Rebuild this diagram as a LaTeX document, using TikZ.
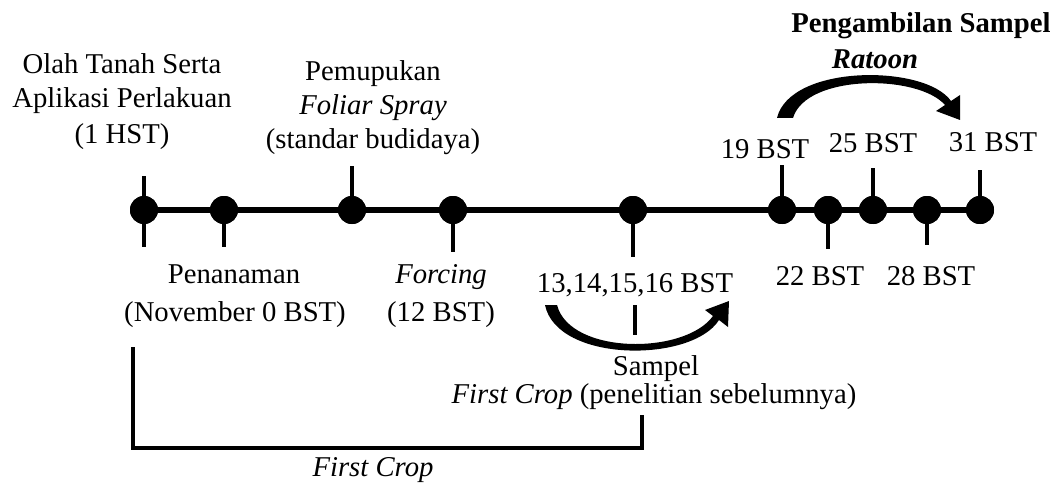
\documentclass[tikz,border=0pt]{standalone}
\usepackage{fontspec}
\setmainfont{Liberation Serif}
\begin{document}
\begin{tikzpicture}[x=1pt,y=-1pt,
  lbl/.style={font=\fontsize{28.7}{34}\selectfont, inner sep=0pt, anchor=base},
  dot/.style={circle, fill=black, minimum size=28pt, inner sep=0pt},
  tickline/.style={line width=4pt},
  axisline/.style={line width=6pt},
  bracketline/.style={line width=4pt, line join=miter}]
\useasboundingbox (0,0) rectangle (1060,484);

% timeline dots (positions)
\node[dot] (d1) at (144,210) {};
\node[dot] (d2) at (224,210) {};
\node[dot] (d3) at (352,210) {};
\node[dot] (d4) at (453,210) {};
\node[dot] (d5) at (633,210) {};
\node[dot] (d6) at (782,210) {};
\node[dot] (d7) at (828,210) {};
\node[dot] (d8) at (873,210) {};
\node[dot] (d9) at (927,210) {};
\node[dot] (d10) at (980,210) {};

% tick ends
\coordinate (t1u) at (144,176);
\coordinate (t1d) at (144,247);
\coordinate (t2d) at (224,247);
\coordinate (t3u) at (352,166);
\coordinate (t4d) at (453,252);
\coordinate (t5d) at (633,257);
\coordinate (t6u) at (782,165);
\coordinate (t7d) at (828,249);
\coordinate (t8u) at (873,168);
\coordinate (t9d) at (927,245);
\coordinate (t10u) at (980,170);

\draw[axisline] (d1.center) -- (d10.center);
\draw[tickline] (t1u) -- (t1d);
\draw[tickline] (d2.center) -- (t2d);
\draw[tickline] (d3.center) -- (t3u);
\draw[tickline] (d4.center) -- (t4d);
\draw[tickline] (d5.center) -- (t5d);
\draw[tickline] (d6.center) -- (t6u);
\draw[tickline] (d7.center) -- (t7d);
\draw[tickline] (d8.center) -- (t8u);
\draw[tickline] (d9.center) -- (t9d);
\draw[tickline] (d10.center) -- (t10u);
% dots drawn over the lines
\foreach \n in {d1,d2,d3,d4,d5,d6,d7,d8,d9,d10}
  \fill (\n.center) circle[radius=14pt];

% upper labels
\node[lbl] (olah1) at (122,74) {Olah Tanah Serta};
\node[lbl] (olah2) at (122,108) {Aplikasi Perlakuan};
\node[lbl] (olah3) at (122,143) {(1 HST)};
\node[lbl] (pem1) at (373,81) {Pemupukan};
\node[lbl] (pem2) at (373,115) {\itshape Foliar Spray};
\node[lbl] (pem3) at (373,149) {(standar budidaya)};
\node[lbl] (rat1) at (921,33) {\bfseries Pengambilan Sampel};
\node[lbl] (rat2) at (875,69) {\bfseries\itshape Ratoon};
\node[lbl] (b19) at (765,158) {19 BST};
\node[lbl] (b25) at (873,153) {25 BST};
\node[lbl] (b31) at (993,152) {31 BST};

% lower labels
\node[lbl] (pen1) at (234,283) {Penanaman};
\node[lbl] (pen2) at (235,321) {(November 0 BST)};
\node[lbl] (for1) at (441,283) {\itshape Forcing};
\node[lbl] (for2) at (441,321) {(12 BST)};
\node[lbl] (b13) at (635,292) {13,14,15,16 BST};
\node[lbl] (b22) at (820,285) {22 BST};
\node[lbl] (b28) at (931,285) {28 BST};
\node[lbl] (samp1) at (656,375) {Sampel};
\node[lbl] (samp2) at (654,403) {\itshape First Crop\upshape{} (penelitian sebelumnya)};
\node[lbl] (fc) at (373,476) {\itshape First Crop};

% short mark inside lower arrow
\coordinate (s1) at (635,305);
\coordinate (s2) at (635,335);
\draw[tickline] (s1) -- (s2);

% bracket
\coordinate (br1) at (133,347);
\coordinate (br2) at (133,448);
\coordinate (br3) at (642,448);
\coordinate (br4) at (642,415);
\draw[bracketline] (br1) -- (br2) -- (br3) -- (br4);

% upper curved arrow (Ratoon)
\fill (777,118) .. controls (790,64) and (925,64) .. (951,101)
  -- (960,95) -- (960,120) -- (936,111) -- (945,105)
  .. controls (918,74) and (806,74) .. (793,118) -- cycle;

% lower curved arrow (First Crop)
\fill (545,305) .. controls (557,363) and (692,363) .. (719,320)
  -- (728,327) -- (729,301) -- (705,310) -- (713,316)
  .. controls (685,355) and (570,355) .. (557,305) -- cycle;
\end{tikzpicture}
\end{document}
